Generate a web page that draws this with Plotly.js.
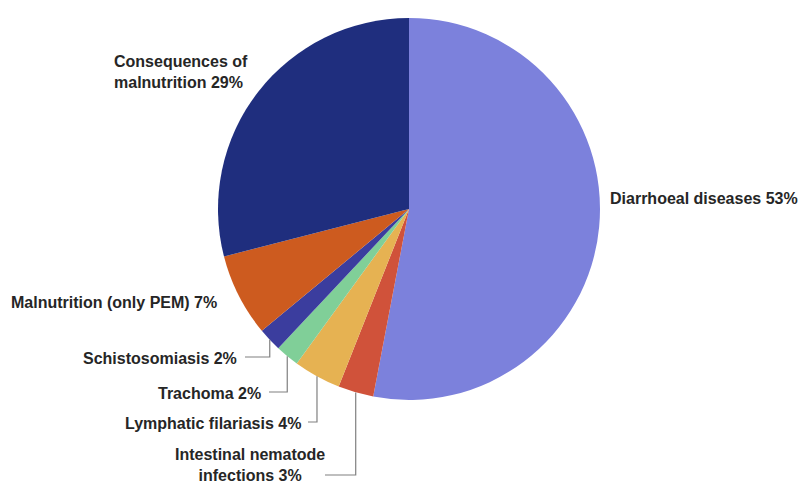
<!DOCTYPE html>
<html>
<head>
<meta charset="utf-8">
<script src="https://cdn.plot.ly/plotly-3.0.1.min.js"></script>
<style>html,body{margin:0;padding:0;background:#fff;}#chart{width:804px;height:483px;}</style>
</head>
<body>
<div id="chart"></div>
<script>
// ---- data ----
const labels = ['Diarrhoeal diseases', 'Intestinal nematode infections', 'Lymphatic filariasis',
                'Trachoma', 'Schistosomiasis', 'Malnutrition (only PEM)', 'Consequences of malnutrition'];
const values = [53, 3, 4, 2, 2, 7, 29];
const labelText = ['Diarrhoeal diseases', 'Intestinal nematode<br>infections', 'Lymphatic filariasis',
                   'Trachoma', 'Schistosomiasis', 'Malnutrition (only PEM)', 'Consequences of<br>malnutrition'];
const colors = ['#7c81dc', '#d0523a', '#e6b252', '#80cf98', '#3b3d9e', '#cd5b1f', '#1f2e7e'];

// ---- layout helpers (pixel -> paper) ----
const W = 804, H = 483;
const CX = 409, CY = 209, R = 191;
const px = x => x / W;
const py = y => 1 - y / H;

// label placement (pixels)
const place = [
  {x: 608, y: 199, xa: 'left',   al: 'left',   lead: false},
  {x: 250, y: 465, xa: 'center', al: 'center', lead: true, hx: 325, hy: 475},
  {x: 303, y: 423, xa: 'right',  al: 'left',   lead: true, hx: 308, hy: 422},
  {x: 263, y: 393, xa: 'right',  al: 'left',   lead: true, hx: 269, hy: 392},
  {x: 239, y: 358, xa: 'right',  al: 'left',   lead: true, hx: 245, hy: 357},
  {x: 219, y: 302, xa: 'right',  al: 'left',   lead: false},
  {x: 112, y: 72,  xa: 'left',   al: 'left',   lead: false}
];

const total = values.reduce((a, b) => a + b, 0);
const annotations = [];
const shapes = [];
let cum = 0;
values.forEach((v, i) => {
  const mid = (cum + v / 2) / total * 2 * Math.PI; // clockwise from 12 o'clock
  cum += v;
  const p = place[i];
  annotations.push({
    xref: 'paper', yref: 'paper', x: px(p.x), y: py(p.y),
    xanchor: p.xa, yanchor: 'middle', align: p.al, showarrow: false,
    text: labelText[i] + ' ' + v + '%',
    font: {family: '"Liberation Sans", Arial, sans-serif', size: 16, color: '#262626', weight: 'bold'}
  });
  if (p.lead) {
    const ex = CX + R * Math.sin(mid);
    const ey = CY - R * Math.cos(mid);
    shapes.push({
      type: 'path', xref: 'paper', yref: 'paper',
      path: 'M' + px(p.hx) + ',' + py(p.hy) + ' L' + px(ex) + ',' + py(p.hy) + ' L' + px(ex) + ',' + py(ey),
      line: {color: '#808080', width: 1.2}
    });
  }
});

const trace = {
  type: 'pie',
  labels: labels,
  values: values,
  sort: false,
  direction: 'clockwise',
  rotation: 0,
  textinfo: 'none',
  hoverinfo: 'label+percent',
  marker: {colors: colors, line: {width: 0}},
  domain: {x: [px(CX - R), px(CX + R)], y: [py(CY + R), py(CY - R)]},
  showlegend: false
};

const layout = {
  width: W, height: H,
  margin: {l: 0, r: 0, t: 0, b: 0},
  paper_bgcolor: '#ffffff',
  plot_bgcolor: '#ffffff',
  showlegend: false,
  annotations: annotations,
  shapes: shapes
};

Plotly.newPlot('chart', [trace], layout, {displayModeBar: false, staticPlot: true});
</script>
</body>
</html>
